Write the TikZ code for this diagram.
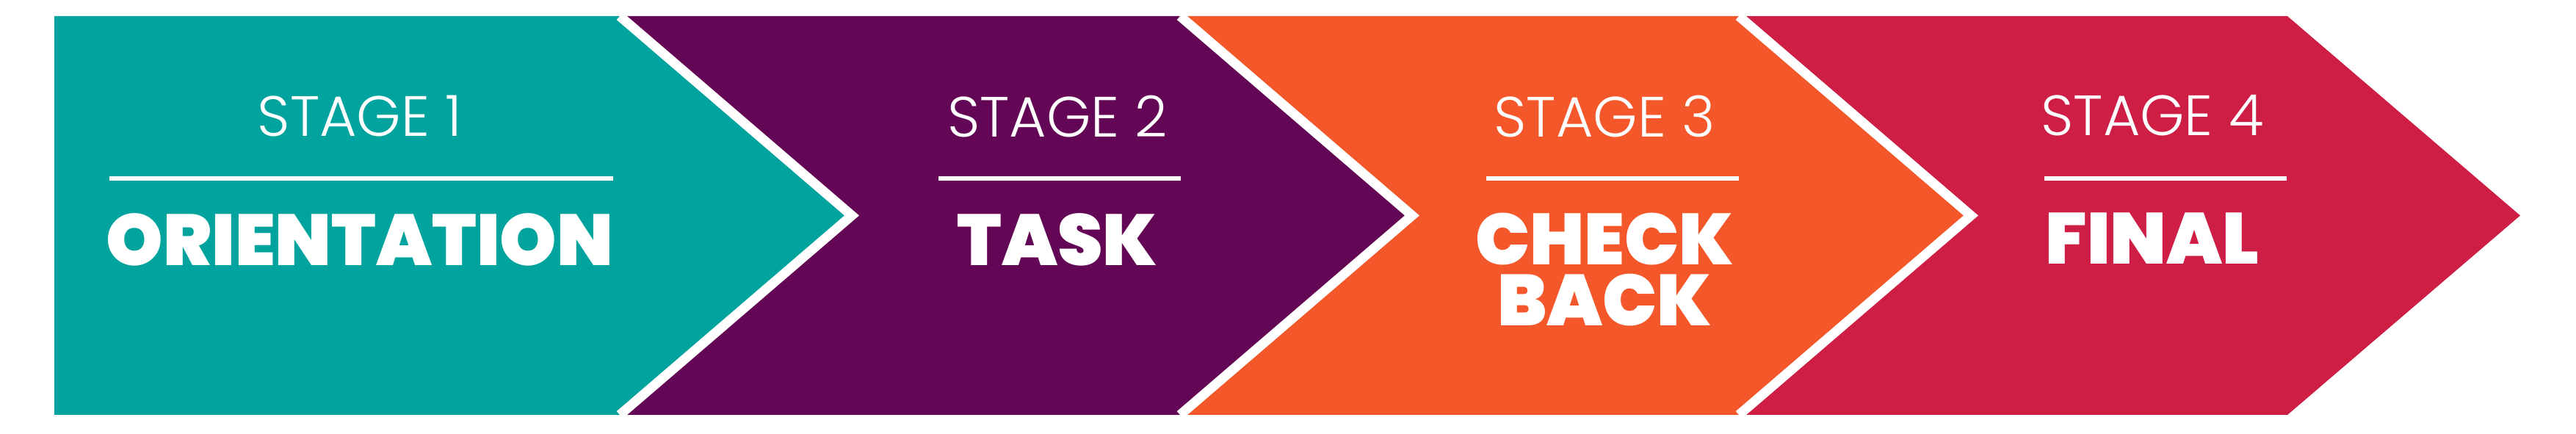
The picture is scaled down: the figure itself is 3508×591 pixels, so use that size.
\documentclass[tikz,border=0pt]{standalone}
\usepackage{fontspec}
\usetikzlibrary{positioning}
\IfFontExistsTF{Poppins Light}{\newfontfamily\stagefont{Poppins Light}}{\newfontfamily\stagefont{Poppins}}
\IfFontExistsTF{Poppins Black}{\newfontfamily\namefont{Poppins Black}}{%
  \IfFontExistsTF{Poppins ExtraBold}{\newfontfamily\namefont{Poppins ExtraBold}}{\newfontfamily\namefont{Poppins Bold}}}
\definecolor{stageteal}{HTML}{00A39D}
\definecolor{stagepurple}{HTML}{630656}
\definecolor{stageorange}{HTML}{F4572A}
\definecolor{stagered}{HTML}{CE1E45}
\tikzset{
  stagelabel/.style={text=white, inner sep=0pt, anchor=north, font=\stagefont\fontsize{22}{22}\selectfont},
  stagename/.style={text=white, inner sep=0pt, anchor=north, align=center, font=\namefont\fontsize{28}{23.7}\selectfont},
  rule/.style={draw=white, line width=0.065cm},
  divider/.style={draw=white, line width=0.13cm, miter limit=10}
}

\begin{document}
\begin{tikzpicture}[x=0.01cm, y=0.01cm]
\useasboundingbox (0,0) rectangle (3508,591);

% arrow bodies
\fill[stageteal]   (74,569) -- (844,569) -- (1160,297.5) -- (844,26) -- (74,26) -- cycle;
\fill[stagepurple] (844,569) -- (1607,569) -- (1923,297.5) -- (1607,26) -- (844,26) -- (1160,297.5) -- cycle;
\fill[stageorange] (1607,569) -- (2368,569) -- (2684,297.5) -- (2368,26) -- (1607,26) -- (1923,297.5) -- cycle;
\fill[stagered]    (2368,569) -- (3115,569) -- (3432,297.5) -- (3115,26) -- (2368,26) -- (2684,297.5) -- cycle;

% white edges between the stages
\foreach \b in {844,1607,2368}
{
  \draw[divider] (\b,569) -- (\b+316,297.5) -- (\b,26);
}

% labels
\foreach \n/\x/\l/\r/\name in {1/490/149/835/ORIENTATION, 2/1440/1278/1608/TASK,
                                3/2185/2024/2368/{CHECK\\BACK}, 4/2931/2784/3114/FINAL}
{
  \node[stagelabel] (stage\n) at (\x,462) {STAGE \n};
  \coordinate (ruleL\n) at (\l,348);
  \coordinate (ruleR\n) at (\r,348);
  \draw[rule] (ruleL\n) -- (ruleR\n);
  \node[stagename] (name\n) at (\x,301.5) {\name};
}
\end{tikzpicture}
\end{document}
